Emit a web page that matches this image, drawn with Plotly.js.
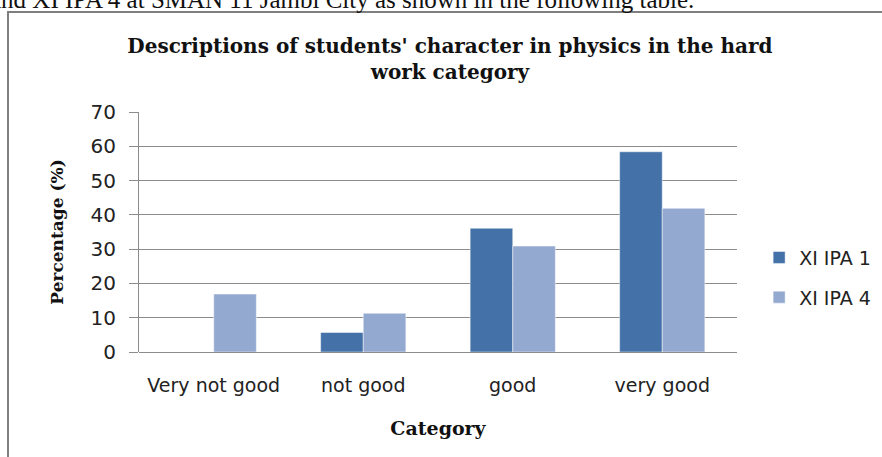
<!DOCTYPE html>
<html>
<head>
<meta charset="utf-8">
<script src="https://cdn.plot.ly/plotly-3.0.1.min.js"></script>
<style>
html,body{margin:0;padding:0;background:#fff;}
#chart{width:882px;height:457px;}
</style>
</head>
<body>
<div id="chart"></div>
<script>
// Data
var categories = ["Very not good", "not good", "good", "very good"];
var seriesNames = ["XI IPA 1", "XI IPA 4"];
var ipa1 = [0, 5.7, 36.1, 58.4];
var ipa4 = [16.9, 11.3, 30.9, 41.9];
var yTicks = [0, 10, 20, 30, 40, 50, 60, 70];

var colors = ["#4472a8", "#94a9d0"];
var sans = "DejaVu Sans, sans-serif";
var serif = "DejaVu Serif, serif";

var traces = [
  {type: "bar", name: seriesNames[0], x: categories, y: ipa1,
   marker: {color: colors[0], line: {color: "rgba(255,255,255,0.6)", width: 0.8}},
   legendgroup: "a"},
  {type: "bar", name: seriesNames[1], x: categories, y: ipa4,
   marker: {color: colors[1], line: {color: "rgba(255,255,255,0.6)", width: 0.8}},
   legendgroup: "b"}
];

var layout = {
  width: 882, height: 457,
  margin: {l: 139, r: 145, t: 112, b: 105, autoexpand: false},
  paper_bgcolor: "#ffffff", plot_bgcolor: "#ffffff",
  barmode: "group", bargap: 0.43, bargroupgap: 0,
  showlegend: true,
  legend: {x: 1.037, xanchor: "left", y: 0.31, yanchor: "middle",
           font: {family: sans, size: 19, color: "#222"},
           tracegroupgap: 12, itemwidth: 30, bgcolor: "rgba(0,0,0,0)"},
  title: {text: "<b>Descriptions of students' character in physics in the hard<br>work category</b>",
          font: {family: serif, size: 20, color: "#111"},
          x: 0.52, xref: "paper", xanchor: "center",
          y: 1 - 53/457, yref: "container", yanchor: "middle"},
  xaxis: {type: "category", categoryorder: "array", categoryarray: categories,
          showline: false, showgrid: false, ticks: "", zeroline: false,
          tickfont: {family: sans, size: 19, color: "#222"},
          ticklabelstandoff: 20,
          title: {text: "<b>Category</b>", font: {family: serif, size: 19, color: "#111"}, standoff: 26},
          automargin: false},
  yaxis: {range: [0, 70], tickvals: yTicks, ticktext: yTicks.map(String),
          showgrid: true, gridcolor: "#8c8c8c", gridwidth: 1,
          showline: true, linecolor: "#8c8c8c", linewidth: 1,
          ticks: "outside", ticklen: 9, tickcolor: "#8c8c8c",
          zeroline: true, zerolinecolor: "#8c8c8c", zerolinewidth: 1,
          tickfont: {family: sans, size: 20, color: "#222"},
          ticklabelstandoff: 9,
          title: {text: "<b>Percentage (%)</b>", font: {family: serif, size: 17, color: "#111"}, standoff: 22},
          automargin: false},
  shapes: [
    {type: "rect", xref: "paper", yref: "paper",
     x0: (8 - 139) / 598, x1: (900 - 139) / 598,
     y0: (352 - 480) / 240, y1: (352 - 12) / 240,
     line: {color: "#7f7f7f", width: 2}, fillcolor: "rgba(0,0,0,0)", layer: "below"}
  ],
  annotations: [
    {text: "and XI IPA 4 at SMAN 11 Jambi City as shown in the following table.",
     xref: "paper", yref: "paper", x: (-12 - 139) / 598, xanchor: "left",
     y: (352 - 15) / 240, yanchor: "bottom", showarrow: false,
     font: {family: "Liberation Serif, serif", size: 25, color: "#111"}}
  ]
};

Plotly.newPlot("chart", traces, layout, {displayModeBar: false, staticPlot: true});
</script>
</body>
</html>
